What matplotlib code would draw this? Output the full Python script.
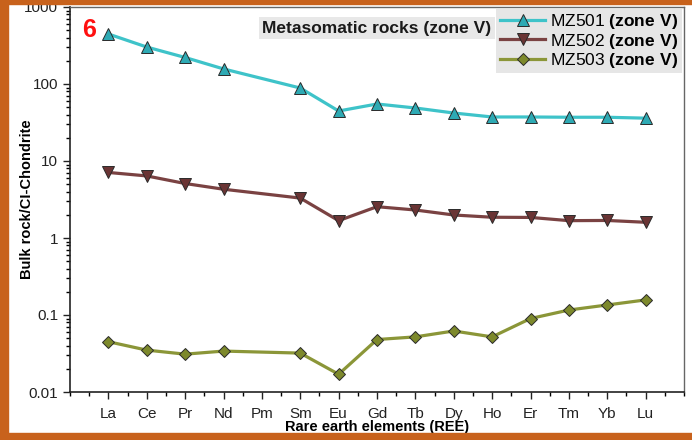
import matplotlib
matplotlib.use("Agg")
import matplotlib.pyplot as plt
import numpy as np
from matplotlib.patches import Rectangle
from matplotlib.ticker import FixedLocator, LogLocator, NullFormatter

plt.rcParams['font.family'] = ['Liberation Sans', 'DejaVu Sans']
plt.rcParams['mathtext.fontset'] = 'custom'
plt.rcParams['mathtext.rm'] = 'Liberation Sans'
plt.rcParams['mathtext.bf'] = 'Liberation Sans:bold'

elements = ['La', 'Ce', 'Pr', 'Nd', 'Pm', 'Sm', 'Eu', 'Gd', 'Tb', 'Dy',
            'Ho', 'Er', 'Tm', 'Yb', 'Lu']
# chondrite-normalised values, Pm not analysed
mz501 = [446, 302, 221, 157, np.nan, 88.7, 44.6, 55, 48.8, 42, 37.3, 37.3, 37, 37, 36]
mz502 = [7.1, 6.4, 5.1, 4.3, np.nan, 3.3, 1.68, 2.55, 2.31, 1.99, 1.86, 1.85, 1.68, 1.69, 1.6]
mz503 = [0.045, 0.035, 0.031, 0.034, np.nan, 0.032, 0.017, 0.048, 0.052, 0.062, 0.052,
         0.09, 0.116, 0.135, 0.157]

series = [
    (mz501, r'MZ501 $\mathbf{(zone\ V)}$', '#3ec3c9', '#2eaab4', '^'),
    (mz502, r'MZ502 $\mathbf{(zone\ V)}$', '#7a4242', '#6a3434', 'v'),
    (mz503, r'MZ503 $\mathbf{(zone\ V)}$', '#8b9638', '#7d892c', 'D'),
]

fig = plt.figure(figsize=(6.92, 4.40), dpi=100)
ax = fig.add_axes([70 / 692, 1 - 392 / 440, 614 / 692, 385 / 440])

x = np.arange(1, len(elements) + 1)
for vals, label, lc, mc, mk in series:
    v = np.array(vals, dtype=float)
    ok = ~np.isnan(v)
    ax.plot(x[ok], v[ok], color=lc, lw=2.3, marker=mk,
            ms=8 if mk != 'D' else 6.5, mfc=mc, mec='#2a2a2a', mew=0.7,
            label=label)

ax.set_yscale('log')
ax.set_ylim(0.01, 1000)
ax.set_xlim(0, 16)
ax.set_xticks(x)
ax.set_xticklabels(elements)
ax.xaxis.set_minor_locator(FixedLocator(np.arange(0, 16.01, 0.5)))
ax.yaxis.set_minor_locator(LogLocator(base=10, subs=np.arange(2, 10), numticks=20))
ax.yaxis.set_minor_formatter(NullFormatter())
ax.set_yticks([0.01, 0.1, 1, 10, 100, 1000])
ax.set_yticklabels(['0.01', '0.1', '1', '10', '100', '1000'])

ax.tick_params(axis='both', which='major', direction='out', length=5, width=1,
               labelsize=11, colors='#222222')
ax.tick_params(axis='both', which='minor', direction='out', length=3, width=1)
ax.tick_params(axis='x', which='major', pad=6)
for s in ['left', 'bottom']:
    ax.spines[s].set_linewidth(1.2)
    ax.spines[s].set_color('#222222')
for s in ['top', 'right']:
    ax.spines[s].set_linewidth(1.0)
    ax.spines[s].set_color('#666666')

ax.set_xlabel('Rare earth elements (REE)', fontsize=10.5, fontweight='bold')
ax.set_ylabel('Bulk rock/CI-Chondrite', fontsize=10.5, fontweight='bold')
ax.xaxis.set_label_coords(0.5, -0.074)
ax.yaxis.set_label_coords(-0.058, 0.5)

ax.text(0.02, 0.94, '6', transform=ax.transAxes, color='#ff1010',
        fontsize=18, fontweight='bold', ha='left', va='center')
ax.text(0.5, 0.945, 'Metasomatic rocks (zone V)', transform=ax.transAxes,
        fontsize=12.5, fontweight='bold', ha='center', va='center',
        color='#1a1a1a',
        bbox=dict(boxstyle='square,pad=0.2', fc='#e8e8e8', ec='none'))

leg = ax.legend(loc='upper right', fontsize=12.5, frameon=True, fancybox=False,
                facecolor='#e6e6e6', edgecolor='none', framealpha=1,
                handlelength=2.6, handletextpad=0.3, labelspacing=0.02,
                borderpad=0.2, borderaxespad=0.1)

# orange frame around the panel
orange = '#c8621c'
fig.patches.append(Rectangle((0, 0), 8 / 692, 1, transform=fig.transFigure,
                             color=orange, zorder=10))
fig.patches.append(Rectangle((0, 1 - 4 / 440), 1, 4 / 440,
                             transform=fig.transFigure, color=orange, zorder=10))
fig.patches.append(Rectangle((0, 0), 1, 7 / 440, transform=fig.transFigure,
                             color=orange, zorder=10))

fig.savefig('out.png', dpi=100)
